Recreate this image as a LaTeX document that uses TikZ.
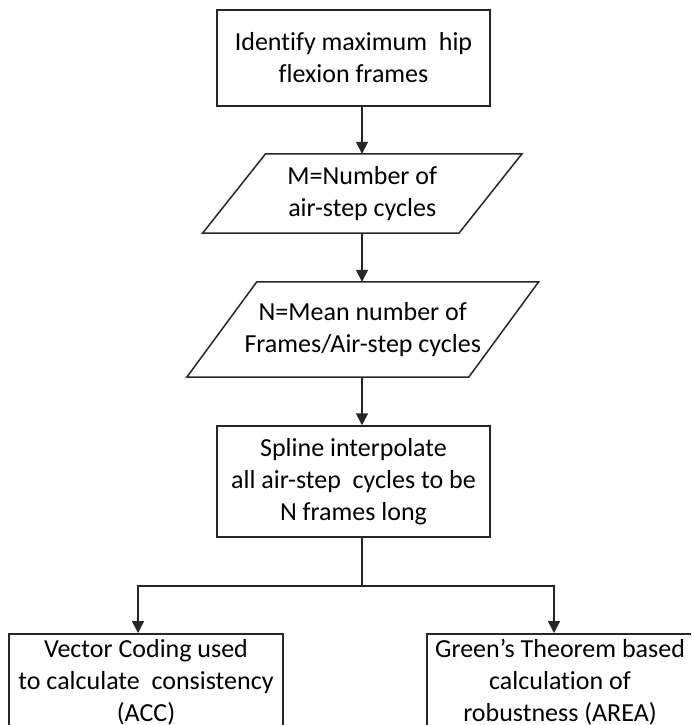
\documentclass[tikz,border=0pt]{standalone}
\usepackage{fontspec}
\setmainfont{Carlito}[Ligatures=NoCommon]
\usetikzlibrary{arrows.meta}
\begin{document}
\begin{tikzpicture}[x=1pt,y=-1pt,
  box/.style={draw=black!85, line width=1.5pt, inner sep=0pt},
  txt/.style={font=\fontsize{26}{32}\selectfont, align=center, inner sep=0pt, text=black},
  conn/.style={line width=1.5pt, draw=black!85},
  arr/.style={conn, -{Triangle[length=12pt,width=12pt]}}
]
\useasboundingbox (0,0) rectangle (691,725);
\clip (0,0) rectangle (691,725);
\fill[white] (0,0) rectangle (691,725);

% column of the vertical connectors
\coordinate (ax) at (362,0);
\coordinate (j) at (362,586);
\coordinate (lx) at (138,586);
\coordinate (rx) at (554,586);

% process boxes
\node[box, txt, minimum width=273, minimum height=96] (b1) at (353.5,58)
  {Identify maximum\ \ hip\\flexion frames};
\node[box, txt, minimum width=273, minimum height=111] (b3) at (353.5,481.5)
  {Spline interpolate\\all air-step\ \ cycles to be\\N frames long};

% data (parallelograms)
\node[txt, minimum width=256, minimum height=79] (p1) at (362.25,193.5)
  {M=Number of\\air-step cycles};
\draw[conn] ([xshift=31.5pt]p1.north west) -- ([xshift=31.5pt]p1.north east)
  -- ([xshift=-31.5pt]p1.south east) -- ([xshift=-31.5pt]p1.south west) -- cycle;
\node[txt, minimum width=281.5, minimum height=95] (p2) at (362.75,329.5)
  {N=Mean number of\\Frames/Air-step cycles};
\draw[conn] ([xshift=35pt]p2.north west) -- ([xshift=35pt]p2.north east)
  -- ([xshift=-35pt]p2.south east) -- ([xshift=-35pt]p2.south west) -- cycle;

% bottom boxes (cut by the picture edge)
\node[box, minimum width=274, minimum height=130, anchor=north] (v) at (146,633) {};
\node[txt, anchor=north] (vt) at (146,639)
  {Vector Coding used\\to calculate\ \ consistency\\(ACC)};
\node[box, minimum width=274, minimum height=130, anchor=north west] (g) at (426,633) {};
\node[txt, anchor=north] (gt) at (560,639)
  {Green’s Theorem based\\calculation of\\robustness (AREA)};

% connectors
\draw[arr] (b1.south -| ax) -- (p1.north -| ax);
\draw[arr] (p1.south -| ax) -- (p2.north -| ax);
\draw[arr] (p2.south -| ax) -- (b3.north -| ax);
\draw[conn] (b3.south -| j) -- (j);
\draw[arr] (j) -- (lx) -- (v.north -| lx);
\draw[arr] (j) -- (rx) -- (g.north -| rx);
\end{tikzpicture}
\end{document}
